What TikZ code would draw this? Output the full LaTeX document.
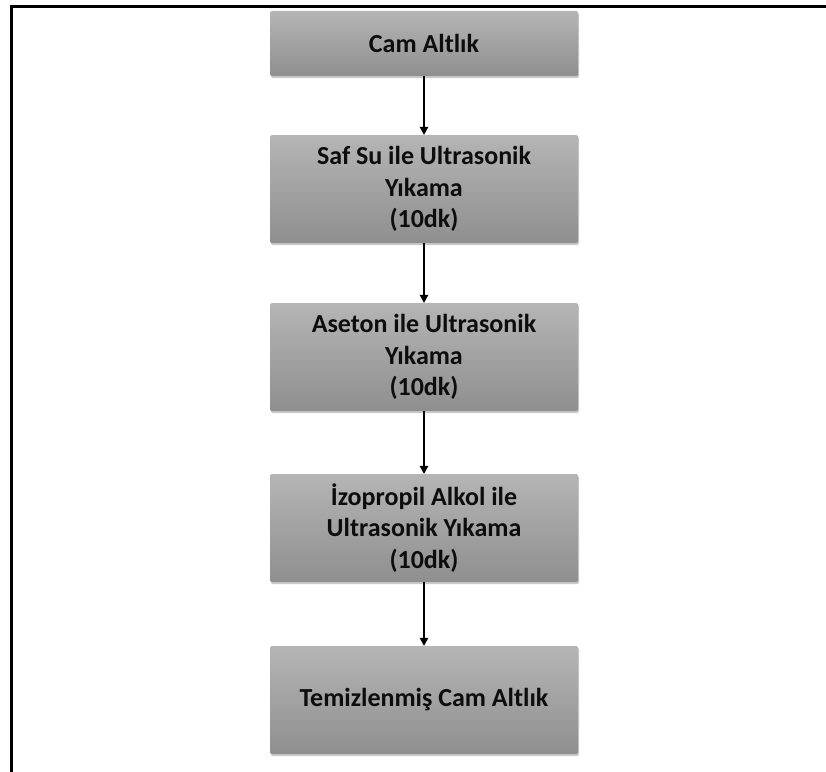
\documentclass[tikz,border=0pt]{standalone}
\usepackage{fontspec}
\setmainfont{Carlito}
\usetikzlibrary{shadows,arrows.meta}
\definecolor{boxtop}{HTML}{B5B5B5}
\definecolor{boxbot}{HTML}{8F8F8F}
\definecolor{inkc}{HTML}{0D0D0D}
\tikzset{
  stepbox/.style={rectangle, rounded corners=1.5bp, draw=none,
    top color=boxtop, bottom color=boxbot,
    drop shadow={shadow xshift=1bp, shadow yshift=-2bp, opacity=0.35, fill=black!60},
    minimum width=308bp, minimum height=108bp, inner sep=0pt,
    align=center, text=inkc,
    font=\fontsize{26bp}{31.5bp}\selectfont\bfseries},
  flow/.style={-{Triangle[length=8bp,width=8.5bp]}, line width=1.3bp, draw=black}
}
\begin{document}
\begin{tikzpicture}[x=1bp,y=-1bp]
\useasboundingbox (0,0) rectangle (826,772);
% frame
\draw[line width=2.6bp, black] (11.5,775) -- (11.5,6.5) -- (830,6.5);
% process steps
\node[stepbox, minimum height=65bp] (s1) at (424,43.5) {Cam Altlık};
\node[stepbox] (s2) at (424,189) {Saf Su ile Ultrasonik\\Yıkama\\(10dk)};
\node[stepbox] (s3) at (424,357) {Aseton ile Ultrasonik\\Yıkama\\(10dk)};
\node[stepbox] (s4) at (424,528) {İzopropil Alkol ile\\Ultrasonik Yıkama\\(10dk)};
\node[stepbox] (s5) at (424,700) {Temizlenmiş Cam Altlık};
% connectors
\draw[flow] (s1) -- (s2);
\draw[flow] (s2) -- (s3);
\draw[flow] (s3) -- (s4);
\draw[flow] (s4) -- (s5);
\end{tikzpicture}
\end{document}
